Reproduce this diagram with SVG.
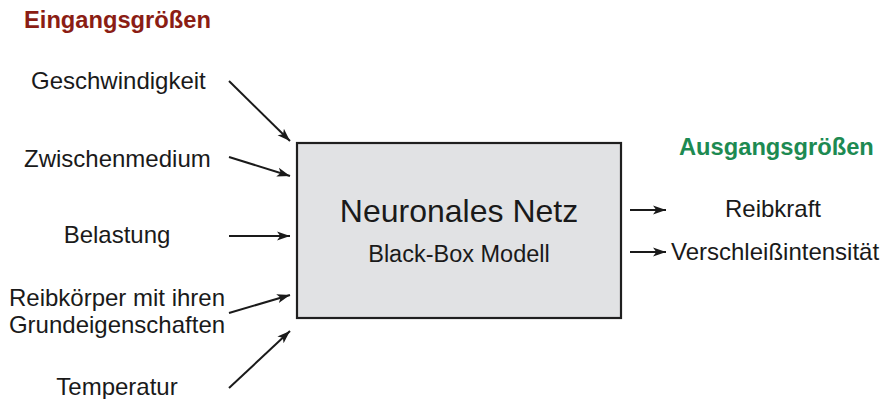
<svg xmlns="http://www.w3.org/2000/svg" width="886" height="399" viewBox="0 0 886 399">
<defs>
<style>
.t{font-family:"Liberation Sans",Arial,sans-serif;font-size:24px;fill:#1a1a1a}
.h{font-family:"Liberation Sans",Arial,sans-serif;font-size:23.7px;font-weight:bold}
.c{stroke:#1a1a1a;stroke-width:2;fill:none;marker-end:url(#ah)}
</style>
<marker id="ah" viewBox="0 0 10 10" refX="10" refY="5" markerWidth="13" markerHeight="13" orient="auto" markerUnits="userSpaceOnUse">
<path d="M0,1.5 L10,5 L0,8.5 L2.5,5 Z" fill="#1a1a1a"/>
</marker>
</defs>
<rect width="886" height="399" fill="#fff"/>
<text class="h" x="24" y="28" fill="#8b1d14">Eingangsgrößen</text>
<text class="h" x="679" y="155" fill="#1d8a52">Ausgangsgrößen</text>
<g id="in-geschwindigkeit"><text class="t" x="31" y="89">Geschwindigkeit</text></g>
<g id="in-zwischenmedium"><text class="t" x="24" y="167">Zwischenmedium</text></g>
<g id="in-belastung"><text class="t" x="117" y="243" text-anchor="middle">Belastung</text></g>
<g id="in-reibkoerper"><text class="t" x="117" y="306" text-anchor="middle">Reibkörper mit ihren</text><text class="t" x="117" y="333" text-anchor="middle">Grundeigenschaften</text></g>
<g id="in-temperatur"><text class="t" x="117" y="395" text-anchor="middle">Temperatur</text></g>
<g id="box">
<rect x="297" y="143" width="324" height="175" fill="#e1e2e4" stroke="#1f1f1f" stroke-width="2.2"/>
<text x="459" y="222" text-anchor="middle" font-family="Liberation Sans,Arial,sans-serif" font-size="32" fill="#1a1a1a">Neuronales Netz</text>
<text x="459" y="262" text-anchor="middle" font-family="Liberation Sans,Arial,sans-serif" font-size="23.5" fill="#1a1a1a">Black-Box Modell</text>
</g>
<g id="out-reibkraft"><text class="t" x="773" y="217" text-anchor="middle">Reibkraft</text></g>
<g id="out-verschleiss"><text class="t" x="671" y="260">Verschleißintensität</text></g>
<g id="connectors">
<line class="c" x1="229" y1="81" x2="290" y2="141"/>
<line class="c" x1="229" y1="157" x2="290" y2="176"/>
<line class="c" x1="229" y1="236" x2="290" y2="236"/>
<line class="c" x1="229" y1="313" x2="290" y2="295"/>
<line class="c" x1="229" y1="388" x2="290" y2="331"/>
<line class="c" x1="630" y1="210" x2="666" y2="210"/>
<line class="c" x1="630" y1="252" x2="666" y2="252"/>
</g>
</svg>
